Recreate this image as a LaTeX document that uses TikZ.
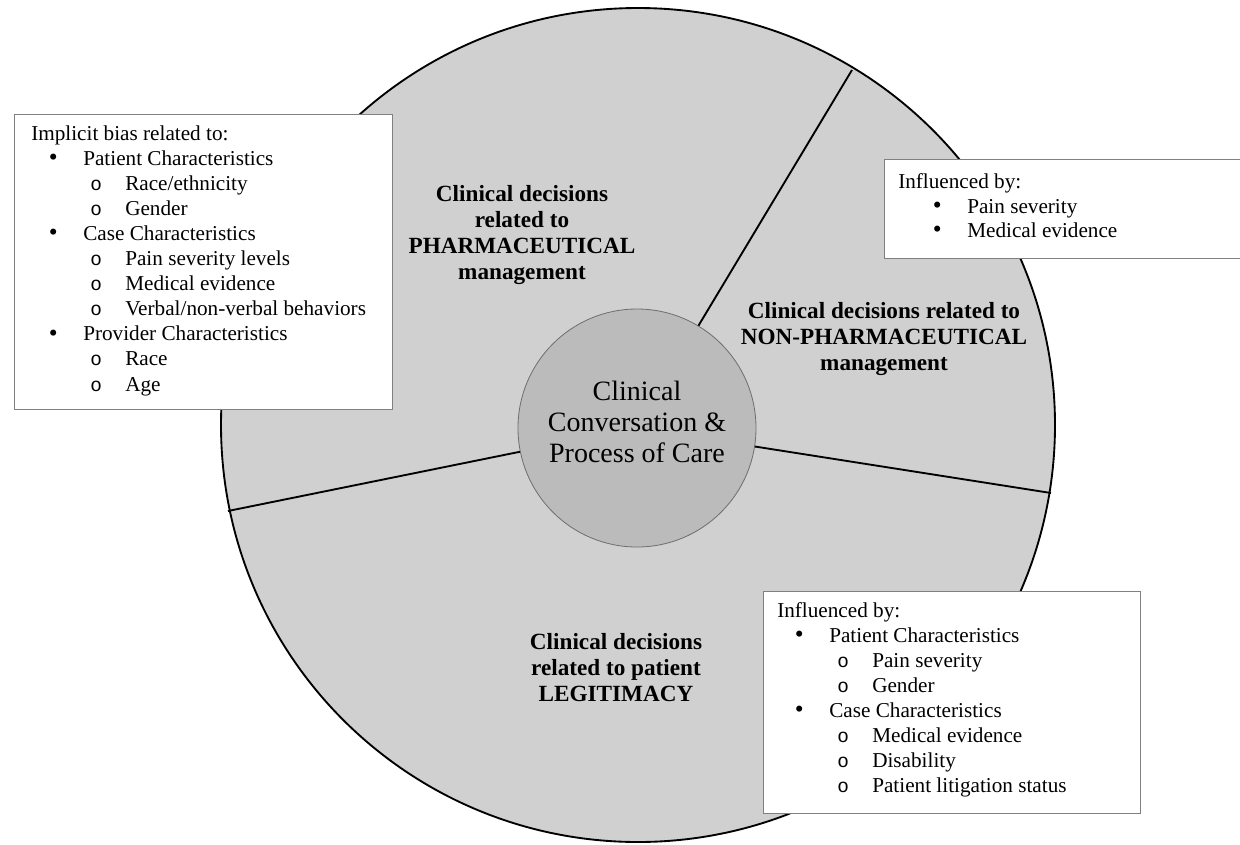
\documentclass[tikz,border=0pt]{standalone}
\usepackage{fontspec}
\setmainfont{Liberation Serif}
\newfontfamily\markfont{Liberation Mono}
\usepackage{tikz}

\newcommand{\boxfont}{\fontsize{15.9}{18.8}\selectfont}
\newcommand{\decfont}{\fontsize{17.4}{19.5}\selectfont\bfseries}
\newcommand{\dotitem}{\llap{\makebox[0pt]{\raisebox{-0.3pt}{\fontsize{19}{19}\selectfont\textbullet}}\hspace{22.5pt}}}
\newcommand{\ringitem}{\llap{\makebox[0pt]{\fontsize{14.5}{14.5}\markfont o}\hspace{21.75pt}}}

\tikzset{
  listline/.style={anchor=base west, inner sep=0pt, font=\boxfont},
  panel/.style={draw={rgb, 255:red, 128; green, 128; blue, 128 }, fill=white, line width=0.8pt, inner sep=0pt, anchor=north west},
  decision/.style={align=center, inner sep=0.75pt, font=\decfont},
  divider/.style={line width=1.4pt},
}

\begin{document}
\begin{tikzpicture}[x=0.75pt,y=0.75pt,yscale=-1,xscale=1]
    \useasboundingbox (0,0) rectangle (1240,844);
    \clip (0,0) rectangle (1240,844);

    %Shape: Circle [outer wheel]
    \draw (638,425) node (wheel) [circle, draw, line width=1.4pt, fill={rgb, 255:red, 208; green, 208; blue, 208 }, minimum size=625.5pt, inner sep=0pt] {};
    %Shape: Circle [centre]
    \draw (637,428) node (conv) [circle, draw={rgb, 255:red, 110; green, 110; blue, 110 }, line width=0.6pt, fill={rgb, 255:red, 187; green, 187; blue, 187 }, minimum size=178.5pt, inner sep=0pt] {};

    %Straight Lines [dividers]
    \coordinate (cutA) at (852,70);
    \coordinate (cutB) at (1051,493);
    \coordinate (cutC) at (228,511);
    \draw [divider] (conv) -- (cutA);
    \draw [divider] (conv) -- (cutB);
    \draw [divider] (conv) -- (cutC);

    % Text Node
    \draw (637,422) node (convtext) [inner sep=0.75pt, align=center, font=\fontsize{21}{23}\selectfont] {Clinical\\Conversation \&\\Process of Care};
    % Text Node
    \draw (522,235) node (pharma) [decision] {Clinical decisions\\related to\\PHARMACEUTICAL\\management};
    % Text Node
    \draw (884,339) node (nonpharma) [decision] {Clinical decisions related to\\NON-PHARMACEUTICAL\\management};
    % Text Node
    \draw (616,668) node (legit) [decision] {Clinical decisions\\related to patient\\LEGITIMACY};

    %Shape: Rectangle [implicit bias]
    \draw (14,114) node (biasbox) [panel, minimum width=283.5pt, minimum height=221.25pt] {};
    \draw (31,140) node (bias0) [listline] {Implicit bias related to:};
    \draw (83,165.1) node (bias1) [listline] {\dotitem Patient Characteristics};
    \draw (125,190.2) node (bias2) [listline] {\ringitem Race/ethnicity};
    \draw (125,215.3) node (bias3) [listline] {\ringitem Gender};
    \draw (83,240.4) node (bias4) [listline] {\dotitem Case Characteristics};
    \draw (125,265.5) node (bias5) [listline] {\ringitem Pain severity levels};
    \draw (125,290.6) node (bias6) [listline] {\ringitem Medical evidence};
    \draw (125,315.7) node (bias7) [listline] {\ringitem Verbal/non-verbal behaviors};
    \draw (83,340.8) node (bias8) [listline] {\dotitem Provider Characteristics};
    \draw (125,365.9) node (bias9) [listline] {\ringitem Race};
    \draw (125,391) node (bias10) [listline] {\ringitem Age};

    %Shape: Rectangle [non-pharmaceutical influences]
    \draw (884,159) node (painbox) [panel, minimum width=270.75pt, minimum height=74.25pt] {};
    \draw (898,188) node (pain0) [listline] {Influenced by:};
    \draw (967,213) node (pain1) [listline] {\dotitem Pain severity};
    \draw (967,237) node (pain2) [listline] {\dotitem Medical evidence};

    %Shape: Rectangle [legitimacy influences]
    \draw (763,591) node (legitbox) [panel, minimum width=282.75pt, minimum height=166.5pt] {};
    \draw (777,617) node (leg0) [listline] {Influenced by:};
    \draw (829,642) node (leg1) [listline] {\dotitem Patient Characteristics};
    \draw (872,667) node (leg2) [listline] {\ringitem Pain severity};
    \draw (872,692) node (leg3) [listline] {\ringitem Gender};
    \draw (829,717) node (leg4) [listline] {\dotitem Case Characteristics};
    \draw (872,742) node (leg5) [listline] {\ringitem Medical evidence};
    \draw (872,767) node (leg6) [listline] {\ringitem Disability};
    \draw (872,792) node (leg7) [listline] {\ringitem Patient litigation status};

\end{tikzpicture}
\end{document}
